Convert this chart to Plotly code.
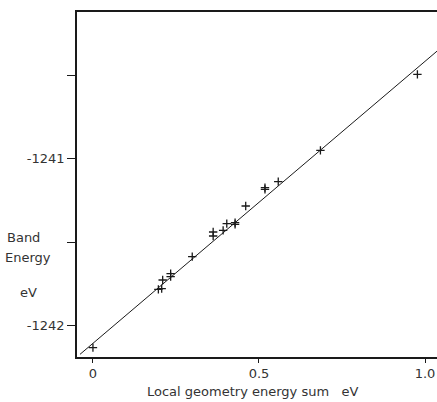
import plotly.graph_objects as go

# Data
local_geom_sum = [0.0, 0.197, 0.207, 0.210, 0.234, 0.234, 0.299, 0.362, 0.362,
                  0.392, 0.403, 0.428, 0.428, 0.460, 0.518, 0.518, 0.558, 0.685, 0.977]
band_energy = [-1242.134, -1241.784, -1241.780, -1241.728, -1241.690, -1241.708,
               -1241.588, -1241.464, -1241.440, -1241.430, -1241.390, -1241.384,
               -1241.394, -1241.284, -1241.174, -1241.184, -1241.138, -1240.950,
               -1240.494]
fit_x = [-0.039, 1.036]
fit_y = [-1242.174, -1240.355]

x_tickvals = [0, 0.5, 1.0]
x_ticktext = ["0", "0.5", "1.0"]
y_tickvals = [-1242, -1241.5, -1241, -1240.5]
y_ticktext = ["-1242", "", "-1241", ""]

FONT = "DejaVu Sans"
INK = "#1a1a1a"
TXT = "#333"

fig = go.Figure()
fig.add_trace(go.Scatter(x=fit_x, y=fit_y, mode="lines",
                         line=dict(color=INK, width=1), showlegend=False))
fig.add_trace(go.Scatter(x=local_geom_sum, y=band_energy, mode="markers",
                         marker=dict(symbol="cross-thin", size=6,
                                     line=dict(color=INK, width=1.3)),
                         showlegend=False))

fig.update_layout(
    width=437, height=402,
    margin=dict(l=77, r=0, t=12, b=45),
    plot_bgcolor="white", paper_bgcolor="white",
    font=dict(family=FONT, size=13, color=TXT),
    xaxis=dict(range=[-0.048, 1.036], tickvals=x_tickvals, ticktext=x_ticktext,
               showgrid=False, zeroline=False, showline=True, linecolor=INK,
               linewidth=1.5, mirror=True, ticks="outside", ticklen=4,
               tickcolor=INK, tickfont=dict(size=13, color=TXT)),
    yaxis=dict(range=[-1242.19, -1240.12], tickvals=y_tickvals, ticktext=y_ticktext,
               showgrid=False, zeroline=False, showline=True, linecolor=INK,
               linewidth=1.5, ticks="outside", ticklen=8, tickcolor=INK,
               tickfont=dict(size=13, color=TXT)),
)

def ann(text, x, y, xanchor="left"):
    fig.add_annotation(text=text, xref="paper", yref="paper", x=x, y=y,
                       xanchor=xanchor, yanchor="middle", showarrow=False,
                       font=dict(family=FONT, size=13, color=TXT))

ann("Band", -0.2, 0.345)
ann("Energy", -0.206, 0.287)
ann("eV", -0.164, 0.188)
ann("Local geometry energy sum   eV", (252 - 77) / 360, -0.101, xanchor="center")

fig.write_html("out.html", config={"displayModeBar": False},
               post_script="document.body.style.margin='0';document.body.style.overflow='hidden';")
